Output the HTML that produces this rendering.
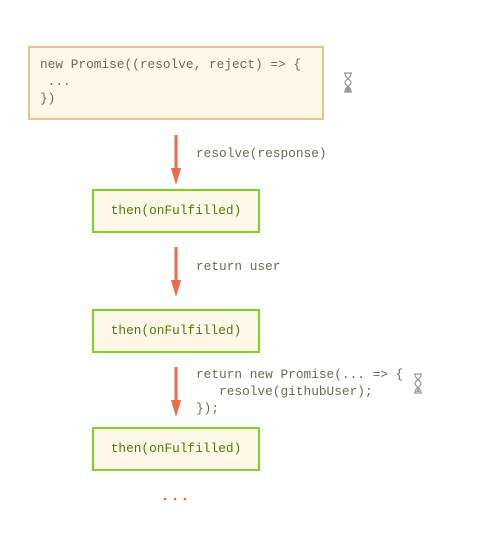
<!DOCTYPE html>
<html><head><meta charset="utf-8"><style>
html,body{margin:0;padding:0;background:#fff;width:479px;height:542px;overflow:hidden}
text{font-family:"Liberation Mono",monospace;font-size:12.8px;white-space:pre}
</style></head><body>
<svg width="479" height="542" viewBox="0 0 479 542" xmlns="http://www.w3.org/2000/svg" xml:space="preserve">
<rect x="29" y="47" width="294" height="72" fill="#fff8e8" stroke="#e8c48c" stroke-width="2"/>
<text x="40" y="68" fill="#6f6a55">new Promise((resolve, reject) =&gt; {</text>
<text x="40" y="85" fill="#6f6a55"> ...</text>
<text x="40" y="102" fill="#6f6a55">})</text>
<g fill="none" stroke="#999" stroke-width="1.2">
<path d="M344 73h8M344 92h8M345 73c0 6 6 6 6 9.5c0 3.5-6 3.5-6 9.5M351 73c0 6-6 6-6 9.5c0 3.5 6 3.5 6 9.5"/>
<path d="M346 91l2-4l2 4z" fill="#999"/>
</g>
<g transform="translate(70,301)"><path d="M344 73h8M344 92h8M345 73c0 6 6 6 6 9.5c0 3.5-6 3.5-6 9.5M351 73c0 6-6 6-6 9.5c0 3.5 6 3.5 6 9.5" fill="none" stroke="#999" stroke-width="1.2"/><path d="M346 91l2-4l2 4z" fill="#999"/></g>

<g fill="#ee6a4a" stroke="#ee6a4a">
<line x1="176" y1="135" x2="176" y2="170" stroke-width="3"/><path d="M171 168h10l-5 17z" stroke="none"/>
<line x1="176" y1="247" x2="176" y2="282" stroke-width="3"/><path d="M171 280h10l-5 17z" stroke="none"/>
<line x1="176" y1="367" x2="176" y2="402" stroke-width="3"/><path d="M171 400h10l-5 17z" stroke="none"/>
</g>
<text x="196" y="157" fill="#6f6a55">resolve(response)</text>
<text x="196" y="270" fill="#6f6a55">return user</text>
<text x="196" y="378" fill="#6f6a55">return new Promise(... =&gt; {</text>
<text x="196" y="395" fill="#6f6a55">   resolve(githubUser);</text>
<text x="196" y="412" fill="#6f6a55">});</text>

<rect x="93" y="190" width="166" height="42" fill="#fff8e8" stroke="#7ed321" stroke-width="2"/>
<text x="176" y="214" fill="#4a7a10" text-anchor="middle">then(onFulfilled)</text>
<rect x="93" y="310" width="166" height="42" fill="#fff8e8" stroke="#7ed321" stroke-width="2"/>
<text x="176" y="334" fill="#4a7a10" text-anchor="middle">then(onFulfilled)</text>
<rect x="93" y="428" width="166" height="42" fill="#fff8e8" stroke="#7ed321" stroke-width="2"/>
<text x="176" y="452" fill="#4a7a10" text-anchor="middle">then(onFulfilled)</text>
<circle cx="165" cy="499" r="1.3" fill="#ee6a4a"/><circle cx="175" cy="499" r="1.3" fill="#ee6a4a"/><circle cx="185" cy="499" r="1.3" fill="#ee6a4a"/>
</svg>
</body></html>
